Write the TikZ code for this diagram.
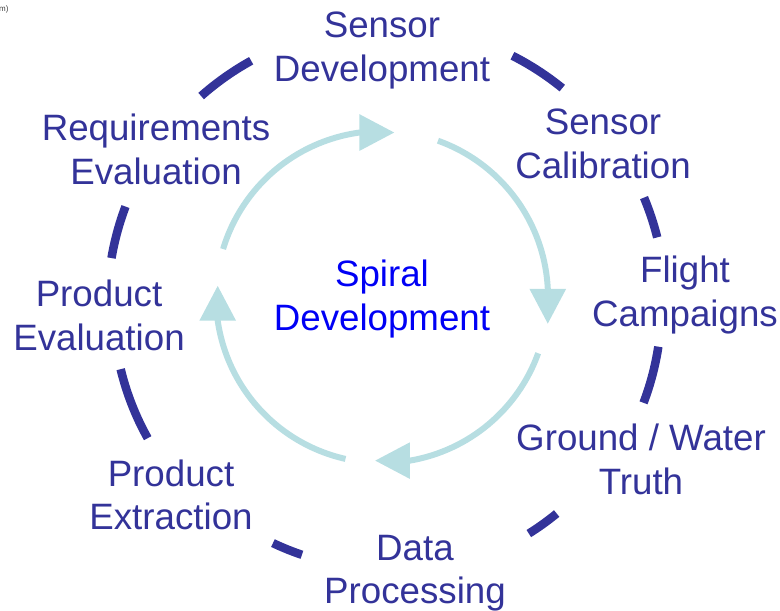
\documentclass[tikz,border=0pt]{standalone}
\usepackage{fontspec}
\setmainfont{Liberation Sans}
\usetikzlibrary{arrows.meta}
\definecolor{stage}{RGB}{51,51,153}
\definecolor{loop}{RGB}{183,222,226}
\definecolor{core}{RGB}{0,0,245}
\tikzset{
  label/.style={anchor=base, align=center, inner sep=0pt, text=stage,
    font=\fontsize{36.7}{44}\selectfont},
  ring/.style={draw=stage, line width=8.5pt, line cap=butt},
  cycle/.style={draw=loop, line width=6pt,
    -{Triangle[length=35pt,width=35pt]}},
}
\begin{document}
\begin{tikzpicture}[x=1pt,y=1pt]
\useasboundingbox (0,0) rectangle (780,611);

% corner fragment
\node[anchor=west, inner sep=0pt, font=\fontsize{8}{9}\selectfont, text=black!75] (corner) at (-1,602) {m)};

% stage labels around the ring (placed by the baseline of their last line)
\node[label] (sdev)  at (382,529) {Sensor\\Development};
\node[label] (scal)  at (603,432) {Sensor\\Calibration};
\node[label] (fc)    at (685,284) {Flight\\Campaigns};
\node[label] (gwt)   at (641,116) {Ground / Water\\Truth};
\node[label] (dp)    at (415,7)   {Data\\Processing};
\node[label] (pext)  at (171,81)  {Product\\Extraction};
\node[label] (peval) at (99,260)  {Product\\Evaluation};
\node[label] (req)   at (156,426) {Requirements\\Evaluation};

% centre label
\node[label, text=core] (spiral) at (382,280) {Spiral\\Development};

% outer ring segments between the stages
\begin{scope}[shift={(386,306)}]
  \draw[ring] (131.5:279) arc[start angle=131.5, end angle=118.9, radius=279];
  \draw[ring] (63.1:279.5) arc[start angle=63.1, end angle=50.9, radius=279.5];
  \draw[ring] (22.6:279.5) arc[start angle=22.6, end angle=14.0, radius=279.5];
  \draw[ring] (-8.7:275.5) arc[start angle=-8.7, end angle=-20.8, radius=275.5];
  \draw[ring] (-50.7:269.5) arc[start angle=-50.7, end angle=-58.0, radius=269.5];
  \draw[ring] (-108.6:263.6) arc[start angle=-108.6, end angle=-115.4, radius=263.6];
  \draw[ring] (-150.8:273) arc[start angle=-150.8, end angle=-166.4, radius=273];
  \draw[ring] (170.3:278.5) arc[start angle=170.3, end angle=159.3, radius=278.5];
\end{scope}

% inner cycle of arrows; each ends in a short straight run so the heads
% point right, down, left and up
\begin{scope}[shift={(382,314)}]
  \draw[cycle] (163.2:166) arc[start angle=163.2, end angle=97.8, radius=166] -- ++(35,0);
  \draw[cycle] (70.3:166) arc[start angle=70.3, end angle=2.8, radius=166] -- ++(0,-35);
  \draw[cycle] (-19.8:166) arc[start angle=-19.8, end angle=-80.3, radius=166] -- ++(-35,0);
  \draw[cycle] (-102.7:166) arc[start angle=-102.7, end angle=-171.8, radius=166] -- ++(0,35);
\end{scope}
\end{tikzpicture}
\end{document}
